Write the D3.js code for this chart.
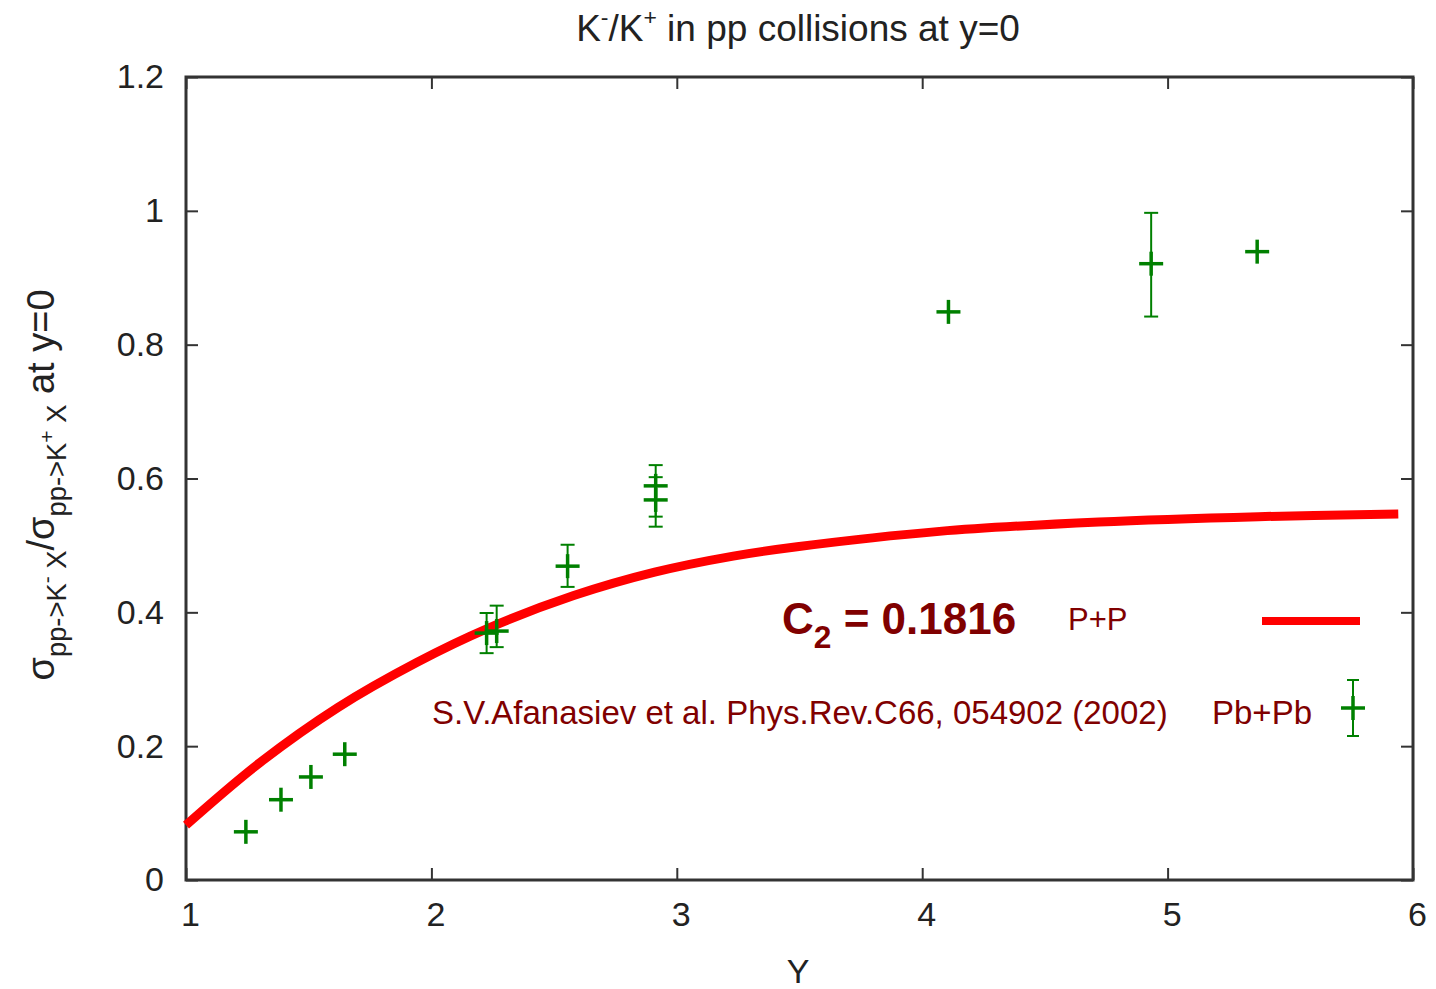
<!DOCTYPE html>
<html>
<head>
<meta charset="utf-8">
<script src="https://cdn.jsdelivr.net/npm/d3@7"></script>
<style>
  html, body { margin: 0; padding: 0; background: #fff; }
  svg { display: block; font-family: "Liberation Sans", Arial, sans-serif; }
</style>
</head>
<body>
<svg id="chart" width="1436" height="989"></svg>
<script>
// ---- data ----
const xTicks = [1, 2, 3, 4, 5, 6];
const yTicks = [0, 0.2, 0.4, 0.6, 0.8, 1, 1.2];

// P+P model curve (C2 = 0.1816)
const ppY     = [1.0, 1.3, 1.62, 1.94, 2.23, 2.58, 2.91, 3.23, 3.49, 4.07, 4.72, 5.37, 5.94];
const ppRatio = [0.082, 0.175, 0.258, 0.325, 0.376, 0.425, 0.460, 0.484, 0.498, 0.521, 0.535, 0.543, 0.547];

// Pb+Pb data (S.V.Afanasiev et al.)
const pbY     = [1.244, 1.387, 1.509, 1.647, 2.225, 2.266, 2.555, 2.914, 2.914, 4.107, 4.933, 5.365];
const pbRatio = [0.072, 0.120, 0.154, 0.188, 0.369, 0.372, 0.469, 0.589, 0.568, 0.849, 0.921, 0.939];
const pbLow   = [null, null, null, null, 0.339, 0.348, 0.438, 0.543, 0.528, null, 0.842, null];
const pbHigh  = [null, null, null, null, 0.399, 0.410, 0.501, 0.620, 0.602, null, 0.997, null];

// ---- layout ----
const L = 186, R = 1413, T = 77, B = 880;
const svg = d3.select("#chart");
const x = d3.scaleLinear().domain([1, 6]).range([L, R]);
const y = d3.scaleLinear().domain([0, 1.2]).range([B, T]);

const axisColor = "#333";
const tickLen = 12;

// axes (ticks inward)
const fmt = d => d3.format("~g")(d);
const gx = svg.append("g").attr("transform", `translate(0,${B})`)
  .call(d3.axisBottom(x).tickValues(xTicks).tickFormat(fmt).tickSizeInner(-tickLen).tickSizeOuter(0).tickPadding(22));
const gy = svg.append("g").attr("transform", `translate(${L},0)`)
  .call(d3.axisLeft(y).tickValues(yTicks).tickFormat(fmt).tickSizeInner(-tickLen).tickSizeOuter(0).tickPadding(22));
const gxt = svg.append("g").attr("transform", `translate(0,${T})`)
  .call(d3.axisTop(x).tickValues(xTicks).tickFormat("").tickSizeInner(-tickLen).tickSizeOuter(0));
const gyr = svg.append("g").attr("transform", `translate(${R},0)`)
  .call(d3.axisRight(y).tickValues(yTicks).tickFormat("").tickSizeInner(-tickLen).tickSizeOuter(0));

[gx, gy, gxt, gyr].forEach(g => {
  g.select(".domain").remove();
  g.selectAll(".tick line").attr("stroke", axisColor).attr("stroke-width", 2);
  g.selectAll(".tick text").attr("fill", "#222").attr("font-size", 34)
    .attr("font-family", "'Liberation Sans', Arial, sans-serif");
});
gx.selectAll(".tick text").attr("dx", 4);

// frame
svg.append("rect").attr("x", L).attr("y", T).attr("width", R - L).attr("height", B - T)
  .attr("fill", "none").attr("stroke", axisColor).attr("stroke-width", 3);

// ---- P+P curve ----
const line = d3.line().x((d, i) => x(ppY[i])).y((d, i) => y(ppRatio[i])).curve(d3.curveCatmullRom.alpha(0.5));
svg.append("path").datum(ppRatio).attr("d", line)
  .attr("fill", "none").attr("stroke", "#ff0000").attr("stroke-width", 9)
  .attr("stroke-linecap", "butt");

// ---- Pb+Pb points ----
const green = "#008000";
const pts = svg.append("g");
pbY.forEach((xv, i) => {
  const cx = x(xv), cy = y(pbRatio[i]);
  if (pbLow[i] !== null) {
    const y0 = y(pbLow[i]), y1 = y(pbHigh[i]);
    pts.append("line").attr("x1", cx).attr("x2", cx).attr("y1", y0).attr("y2", y1)
      .attr("stroke", green).attr("stroke-width", 2);
    [y0, y1].forEach(yy => pts.append("line").attr("x1", cx - 7).attr("x2", cx + 7)
      .attr("y1", yy).attr("y2", yy).attr("stroke", green).attr("stroke-width", 2));
  }
  pts.append("line").attr("x1", cx - 12).attr("x2", cx + 12).attr("y1", cy).attr("y2", cy)
    .attr("stroke", green).attr("stroke-width", 3.5);
  pts.append("line").attr("x1", cx).attr("x2", cx).attr("y1", cy - 12).attr("y2", cy + 12)
    .attr("stroke", green).attr("stroke-width", 3.5);
});

// ---- rich text helper ----
function rich(t, parts, size) {
  // level 0 normal, -1 sub, 1 sup, 2 sup-in-sub
  let cur = 0;
  const off = { 0: 0, "-1": 0.32, 1: -0.42, 2: 0.0 };
  const sc = { 0: 1, "-1": 0.72, 1: 0.62, 2: 0.55 };
  parts.forEach(([txt, lvl]) => {
    const target = off[lvl] * size;
    t.append("tspan").attr("dy", target - cur).attr("font-size", size * sc[lvl]).text(txt);
    cur = target;
  });
  return t;
}

// ---- title ----
const title = svg.append("text").attr("x", 798).attr("y", 41).attr("text-anchor", "middle")
  .attr("fill", "#222").attr("font-family", "'Liberation Sans', Arial, sans-serif");
rich(title, [["K", 0], ["-", 1], ["/K", 0], ["+", 1], [" in pp collisions at y=0", 0]], 37);

// ---- x label ----
svg.append("text").attr("x", 798).attr("y", 983).attr("text-anchor", "middle")
  .attr("fill", "#222").attr("font-size", 34).text("Y");

// ---- y label ----
const yl = svg.append("text").attr("transform", "translate(54,485) rotate(-90)")
  .attr("text-anchor", "middle").attr("fill", "#222");
rich(yl, [["σ", 0], ["pp->K", -1], ["-", 2], [" X", -1], ["/σ", 0], ["pp->K", -1], ["+", 2], [" X", -1], [" at y=0", 0]], 38);

// ---- legend / annotations ----
const dred = "#800000";
const c2 = svg.append("text").attr("x", 782).attr("y", 634).attr("fill", dred).attr("font-weight", "bold");
rich(c2, [["C", 0], ["2", -1], [" = 0.1816", 0]], 44);
svg.append("text").attr("x", 1068).attr("y", 630).attr("fill", dred).attr("font-size", 31).text("P+P");
svg.append("line").attr("x1", 1262).attr("x2", 1360).attr("y1", 621).attr("y2", 621)
  .attr("stroke", "#ff0000").attr("stroke-width", 8);
svg.append("text").attr("x", 432).attr("y", 724).attr("fill", dred).attr("font-size", 33)
  .text("S.V.Afanasiev et al. Phys.Rev.C66, 054902 (2002)");
svg.append("text").attr("x", 1212).attr("y", 724).attr("fill", dred).attr("font-size", 33).text("Pb+Pb");
const lx = 1353, ly = 708;
svg.append("line").attr("x1", lx).attr("x2", lx).attr("y1", ly - 28).attr("y2", ly + 28).attr("stroke", green).attr("stroke-width", 2);
[ly - 28, ly + 28].forEach(yy => svg.append("line").attr("x1", lx - 6).attr("x2", lx + 6).attr("y1", yy).attr("y2", yy).attr("stroke", green).attr("stroke-width", 2));
svg.append("line").attr("x1", lx - 12).attr("x2", lx + 12).attr("y1", ly).attr("y2", ly).attr("stroke", green).attr("stroke-width", 3.5);
svg.append("line").attr("x1", lx).attr("x2", lx).attr("y1", ly - 12).attr("y2", ly + 12).attr("stroke", green).attr("stroke-width", 3.5);
</script>
</body>
</html>
